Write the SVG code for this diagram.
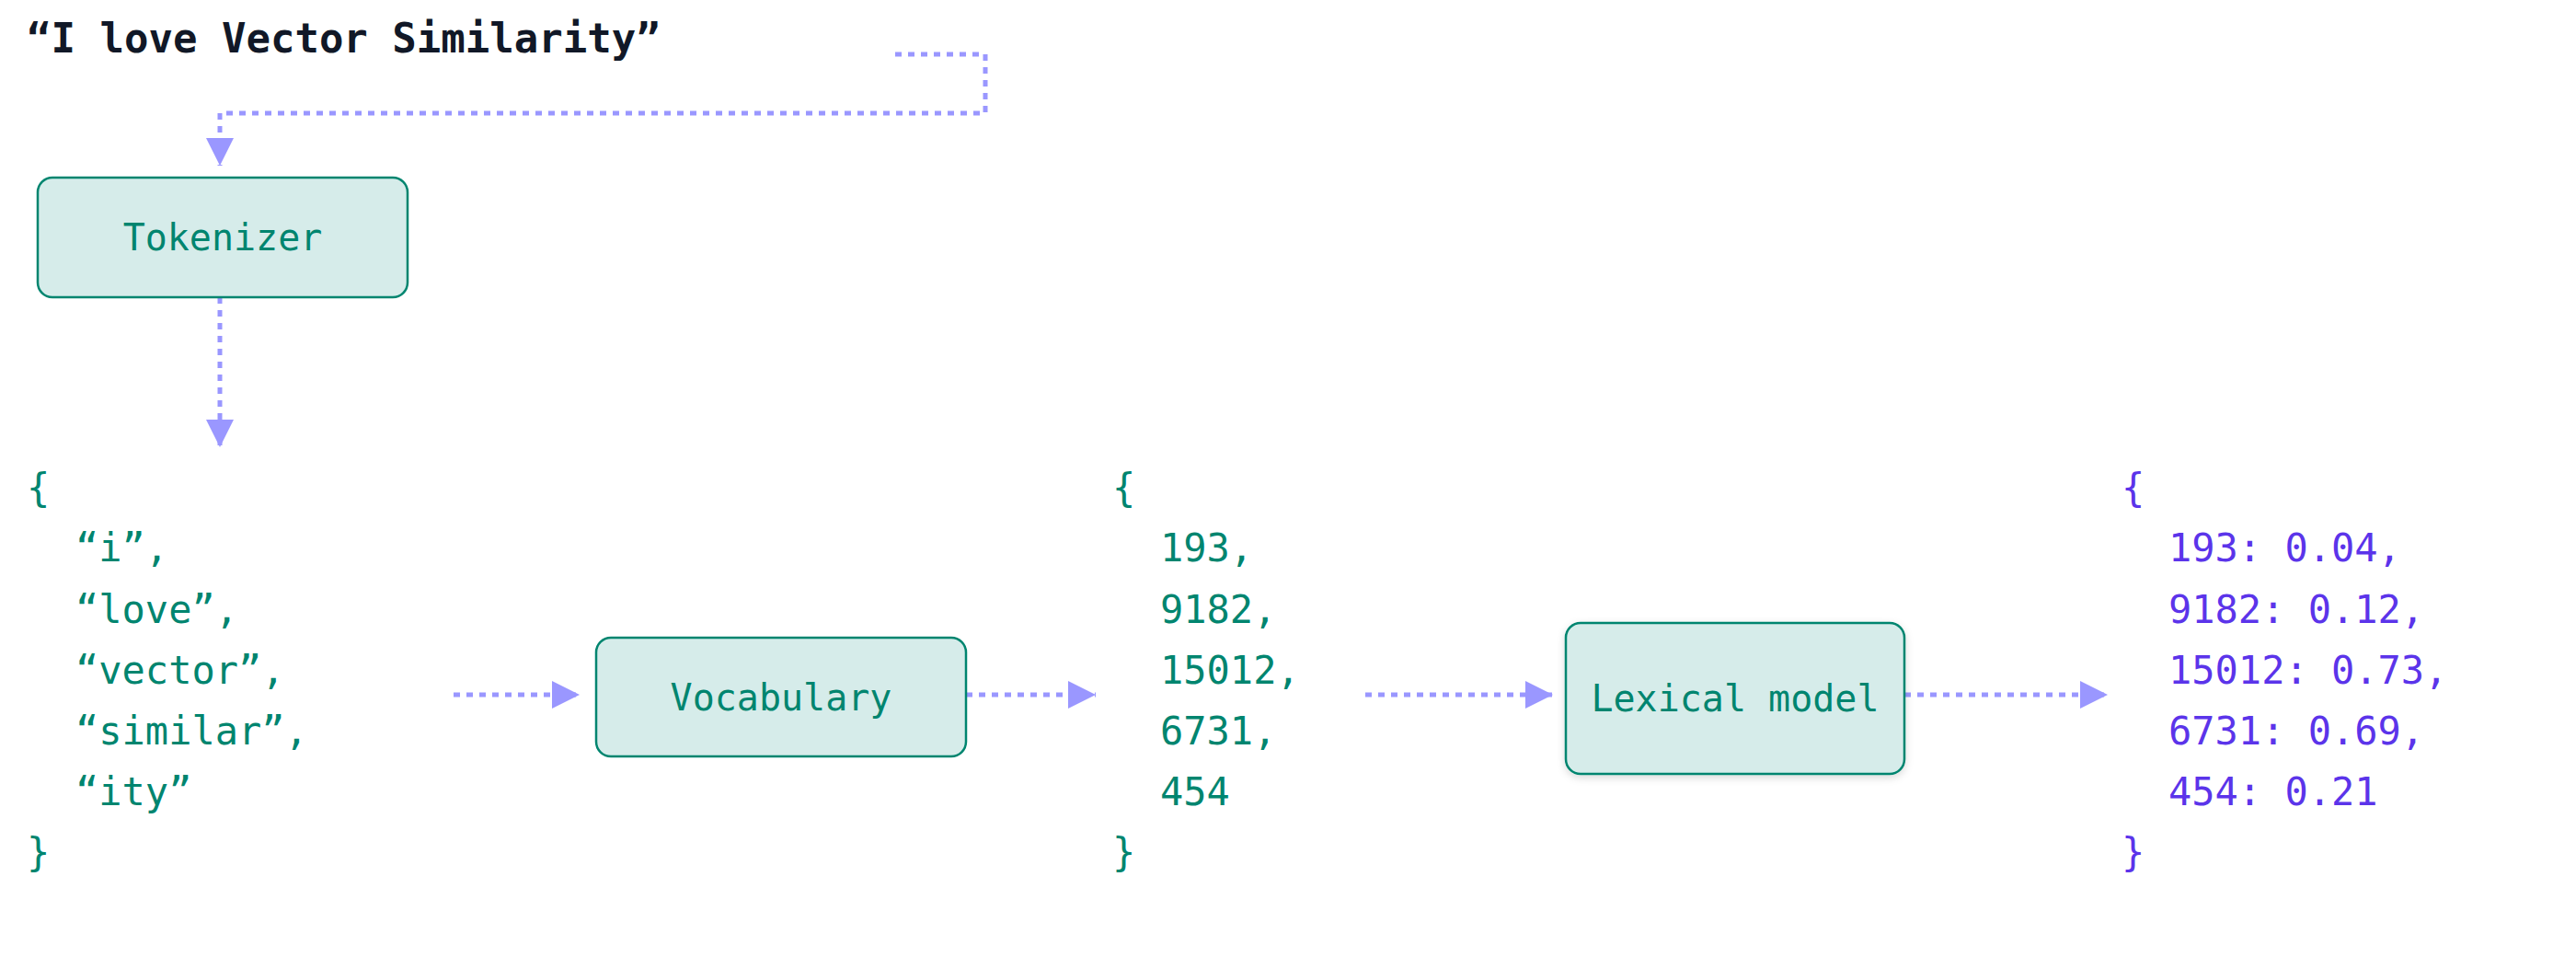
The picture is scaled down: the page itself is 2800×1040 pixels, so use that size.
<svg xmlns="http://www.w3.org/2000/svg" width="2800" height="1040" viewBox="0 0 2800 1040">
<defs>
<marker id="ah" viewBox="0 0 10 10" refX="10" refY="5" markerWidth="6" markerHeight="6" markerUnits="strokeWidth" orient="auto"><path d="M0,0 L10,5 L0,10 z" fill="#9a97ff"/></marker>
<filter id="sh" x="-10%" y="-10%" width="120%" height="130%"><feDropShadow dx="0" dy="3" stdDeviation="4" flood-opacity="0.15"/></filter>
</defs>
<style>
.mono{font-family:"DejaVu Sans Mono","Liberation Mono",monospace}
.t{fill:#00856f;font-size:42px}
.p{fill:#5b34ea;font-size:42px}
.box{fill:#d6ecea;stroke:#00856f;stroke-width:2.5}
.lbl{fill:#00856f;font-size:40px;text-anchor:middle;dominant-baseline:central}
.c{fill:none;stroke:#9a97ff;stroke-width:5;stroke-dasharray:7 7;marker-end:url(#ah)}
</style>
<text class="mono" x="29" y="57" font-size="44" font-weight="bold" fill="#111827">“I love Vector Similarity”</text>
<g id="connectors">
<path class="c" d="M973,59 H1071 V123 H239 V180"/>
<path class="c" d="M239,323 V486"/>
<path class="c" d="M493,755 H630"/>
<path class="c" d="M1050,755 H1191"/>
<path class="c" d="M1484,755 H1688"/>
<path class="c" d="M2070,755 H2291"/>
</g>
<g id="tokenizer"><rect class="box" x="41" y="193" width="402" height="130" rx="16"/><text class="mono lbl" x="242" y="258">Tokenizer</text></g>
<g id="tokens" class="mono t">
<text x="29" y="545">{</text>
<text x="82" y="610">“i”,</text>
<text x="82" y="677">“love”,</text>
<text x="82" y="743">“vector”,</text>
<text x="82" y="809">“similar”,</text>
<text x="82" y="875">“ity”</text>
<text x="29" y="941">}</text>
</g>
<g id="vocabulary"><rect class="box" x="648" y="693" width="402" height="129" rx="16"/><text class="mono lbl" x="849" y="758">Vocabulary</text></g>
<g id="ids" class="mono t">
<text x="1209" y="545">{</text>
<text x="1261" y="610">193,</text>
<text x="1261" y="677">9182,</text>
<text x="1261" y="743">15012,</text>
<text x="1261" y="809">6731,</text>
<text x="1261" y="875">454</text>
<text x="1209" y="941">}</text>
</g>
<g id="lexical"><rect class="box" x="1702" y="677" width="368" height="164" rx="16" filter="url(#sh)"/><text class="mono lbl" x="1886" y="759">Lexical model</text></g>
<g id="weights" class="mono p">
<text x="2306" y="545">{</text>
<text x="2357" y="610">193: 0.04,</text>
<text x="2357" y="677">9182: 0.12,</text>
<text x="2357" y="743">15012: 0.73,</text>
<text x="2357" y="809">6731: 0.69,</text>
<text x="2357" y="875">454: 0.21</text>
<text x="2306" y="941">}</text>
</g>
</svg>
